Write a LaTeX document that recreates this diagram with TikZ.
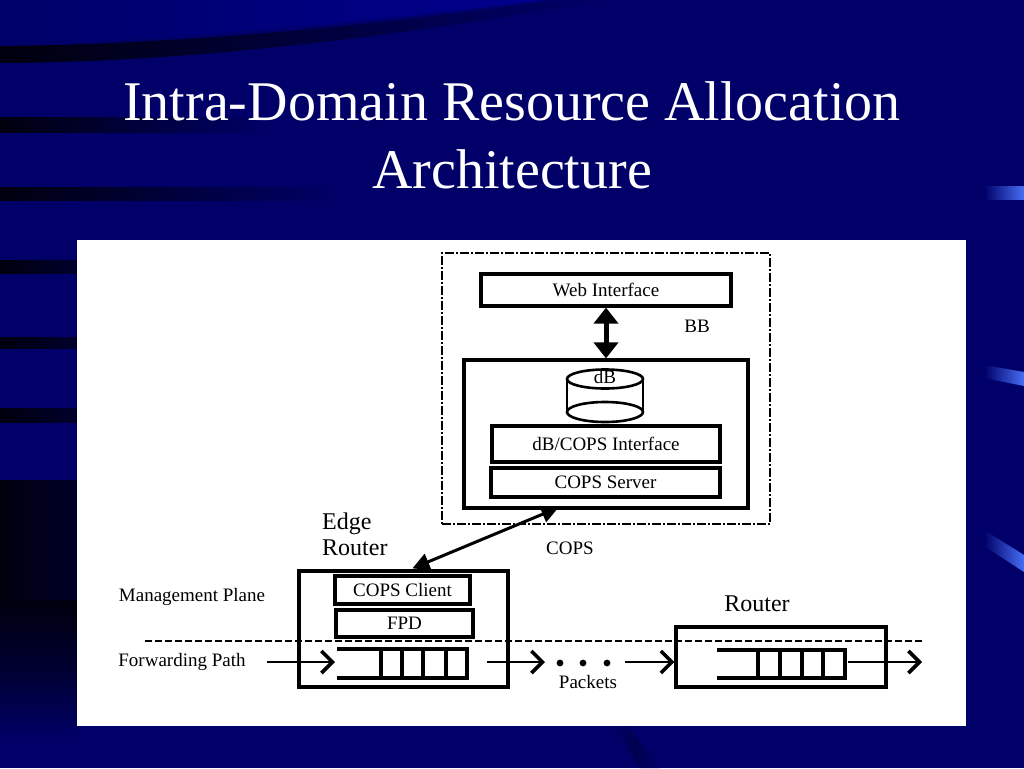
\documentclass[tikz,border=0pt]{standalone}
\usepackage{fontspec}
\setmainfont{Liberation Serif}
\usetikzlibrary{arrows.meta,calc}
\definecolor{bgnavy}{RGB}{0,0,104}
\definecolor{barblue}{RGB}{70,110,245}
\definecolor{darkband}{RGB}{0,0,14}
\begin{document}
\begin{tikzpicture}[x=1pt,y=-1pt,
  box/.style={draw, line width=3.2pt, inner sep=0pt, font=\fontsize{19}{22}\selectfont},
  lbl/.style={inner sep=0pt, font=\fontsize{19}{22}\selectfont},
  biglbl/.style={inner sep=0pt, font=\fontsize{24}{26}\selectfont},
  titletext/.style={inner sep=0pt, anchor=base, text=white, font=\fontsize{56}{60}\selectfont},
  qline/.style={line width=3.4pt},
  flow/.style={line width=2.8pt, -{Straight Barb[length=11pt,width=22pt,line width=3.6pt]}},
  cyl/.style={line width=2.6pt},
  bbline/.style={line width=2pt, dash pattern=on 9pt off 2pt on 2pt off 2pt},
  planeline/.style={line width=2pt, dash pattern=on 7pt off 3pt},
  bigdbl/.style={line width=5pt, {Triangle[length=16pt,width=24pt]}-{Triangle[length=16pt,width=24pt]}},
  copsdbl/.style={line width=3pt, {Triangle[length=17pt,width=17pt]}-{Triangle[length=17pt,width=17pt]}}
]
\useasboundingbox (0,0) rectangle (1024,768);
% background
\fill[bgnavy] (0,0) rectangle (1024,768);
\shade[left color=bgnavy, right color=bgnavy!75!blue] (0,44) .. controls (200,40) and (400,18) .. (545,0) -- (150,0) -- (0,0) -- cycle;
\shade[left color=darkband, right color=bgnavy] (0,46) .. controls (200,44) and (400,22) .. (560,0) -- (610,0) .. controls (430,30) and (220,62) .. (0,63) -- cycle;
\shade[left color=darkband, right color=bgnavy] (0,117) rectangle (270,132);
\shade[left color=darkband, right color=bgnavy] (0,187) rectangle (340,200);
\shade[left color=darkband, right color=bgnavy] (0,260) rectangle (220,273);
\shade[left color=darkband, right color=bgnavy] (0,337) rectangle (220,348);
\shade[left color=darkband, right color=bgnavy] (0,408) rectangle (220,422);
\shade[left color=darkband, right color=bgnavy] (0,480) rectangle (260,600);
\shade[top color=darkband, bottom color=bgnavy, middle color=darkband!60!bgnavy] (0,600) rectangle (77,740);
\shade[left color=bgnavy, right color=barblue] (984,186) rectangle (1024,199);
\shade[left color=bgnavy, right color=barblue] (984,365) -- (1024,372) -- (1024,386) -- (984,378) -- cycle;
\shade[left color=bgnavy, right color=barblue] (984,530) -- (1024,555) -- (1024,572) -- (984,546) -- cycle;
\shade[left color=bgnavy, right color=bgnavy, middle color=darkband!25!bgnavy] (612,726) -- (628,726) -- (660,768) -- (640,768) -- cycle;
% title
\node[titletext] (t1) at (512,120) {Intra-Domain Resource Allocation};
\node[titletext] (t2) at (512,188) {Architecture};
% white panel
\fill[white] (77,240) rectangle (966,726);
% BB
\node[bbline, draw, minimum width=328pt, minimum height=271pt, inner sep=0pt] (bb) at (606,388.5) {};
\node[box, minimum width=250pt, minimum height=32pt] (web) at (606,290) {Web Interface};
\node[lbl] (bblbl) at (697,326) {BB};
\node[box, minimum width=284pt, minimum height=148pt] (bbin) at (606,434) {};
% cylinder
\draw[cyl] (567,379) -- (567,412);
\draw[cyl] (643,379) -- (643,412);
\draw[cyl] (605,412) ellipse [x radius=38, y radius=10];
\draw[cyl, fill=white] (605,379) ellipse [x radius=38, y radius=9.5];
\node[lbl] (db) at (605,377) {dB};
\node[box, minimum width=228pt, minimum height=36pt] (dbif) at (606,444) {dB/COPS Interface};
\node[box, minimum width=229pt, minimum height=29pt] (srv) at (605.5,482.5) {COPS Server};
\draw[bigdbl] (web.south) -- (bbin.north);
% edge router
\node[biglbl, anchor=west, align=left] (edgelbl) at (322,534) {Edge\\Router};
\node[box, minimum width=209pt, minimum height=116pt] (edge) at (403.5,629) {};
\node[box, minimum width=135pt, minimum height=28pt] (client) at (402.5,590) {COPS Client};
\node[box, minimum width=137pt, minimum height=27pt] (fpd) at (404.5,623.5) {FPD};
\coordinate (cA) at ($(bbin.south west)+(96,-2)$);
\coordinate (cB) at ($(edge.north west)+(115,-1)$);
\draw[copsdbl] (cA) -- (cB);
\node[lbl] (copslbl) at (570,548) {COPS};
% planes
\node[lbl] (mgmt) at (192,597) {Management Plane};
\node[lbl] (fwd) at (182,662) {Forwarding Path};
\draw[planeline] (145,641) -- (925,641);
% edge queue
\draw[qline] (337,649) -- (467,649) -- (467,678) -- (337,678);
\foreach \xq in {381,402,423,446} \draw[qline] (\xq,649) -- (\xq,678);
% router
\node[biglbl] (rtlbl) at (757,604) {Router};
\node[box, minimum width=210pt, minimum height=60pt] (router) at (781,657) {};
\draw[qline] (717,650) -- (845,650) -- (845,678) -- (717,678);
\foreach \xq in {758,780,802,823} \draw[qline] (\xq,650) -- (\xq,678);
% flows
\coordinate (f0) at (267,662);
\coordinate (q1in) at (335,662);
\coordinate (e1) at (487,662);
\coordinate (e2) at (545,662);
\coordinate (r0) at (625,662);
\coordinate (r1) at (848,662);
\coordinate (r2) at (922,662);
\draw[flow] (f0) -- (q1in);
\draw[flow] (e1) -- (e2);
\draw[flow] (r0) -- (router.west |- r0);
\draw[flow] (r1) -- (r2);
\foreach \xd in {560,583,607} \fill (\xd,663) circle [radius=3.4];
\node[lbl] (pkts) at (588,682) {Packets};
\end{tikzpicture}
\end{document}
